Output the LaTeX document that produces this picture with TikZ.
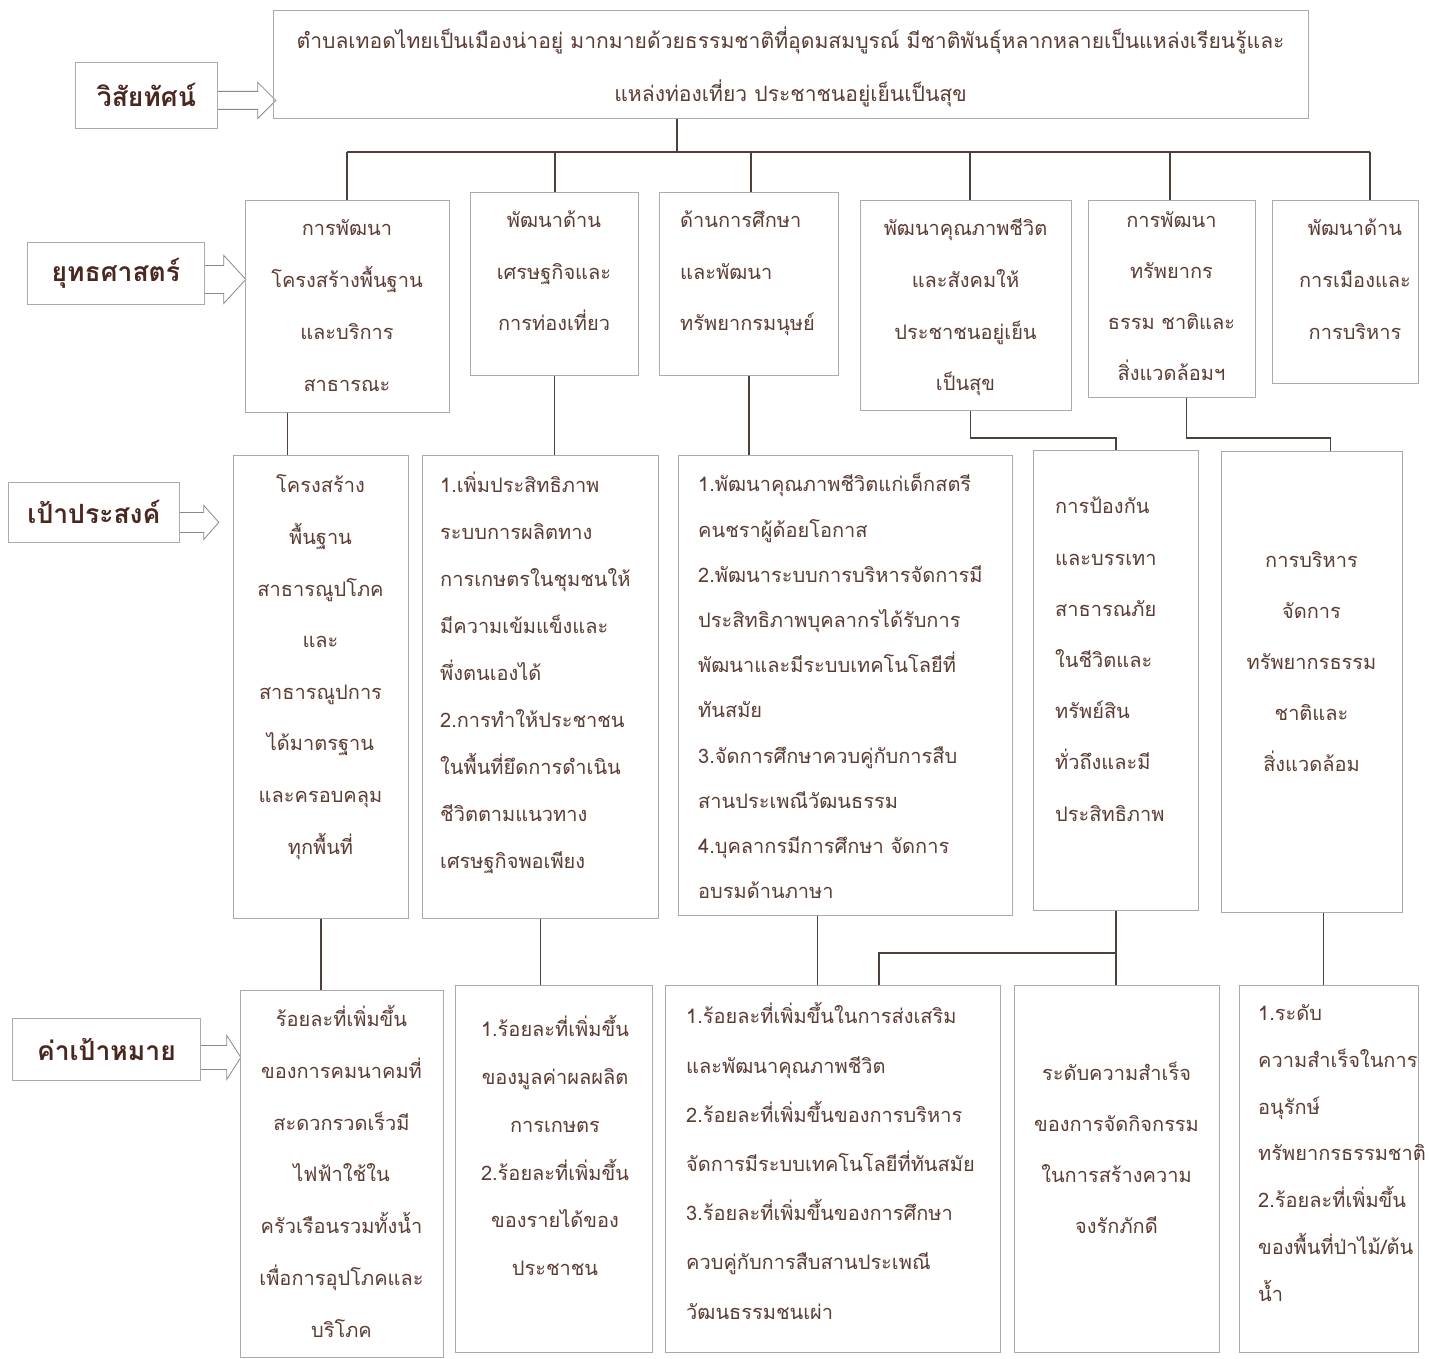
\documentclass[tikz,border=0pt]{standalone}
\usepackage{fontspec}
\newfontfamily\thai[Script=Thai]{Loma}
\definecolor{tc}{HTML}{5C3D33}
\definecolor{tcb}{HTML}{4A2820}
\definecolor{lc}{HTML}{4E403B}
\definecolor{bc}{HTML}{ABABAB}
\tikzset{
 box/.style={draw=bc, line width=0.8pt, inner sep=0pt, anchor=north west},
 lab/.style={box, text=tcb, font=\thai\bfseries\fontsize{26.5}{30}\selectfont},
 txt/.style={inner sep=0pt, text=tc},
 tsz/.style 2 args={font=\thai\fontsize{#1}{#2}\selectfont},
 tl/.style={txt, anchor=north west, align=left},
 tcn/.style={txt, anchor=north, align=center},
 conn/.style={draw=lc, line width=1.6pt},
 blk/.style={draw=bc!80!black, line width=0.8pt, line join=miter},
}
\newcommand\bx[5]{\node[box, minimum width={#4-#2}, minimum height={#5-#3}] (#1) at (#2,#3) {};}
\newcommand\lbx[6]{\node[lab, minimum width={#4-#2}, minimum height={#5-#3}] (#1) at (#2,#3) {#6};}
\newcommand\blkarrow[6]{\draw[blk] (#1.east) ++(0,{#2-#5}) -- ++(#3,0) -- ++(0,{#5-#6}) -- ++(#4,#6) -- ++(-#4,#6) -- ++(0,{#5-#6}) -- ++(-#3,0);}
\begin{document}
\begin{tikzpicture}[x=1pt,y=-1pt]
\useasboundingbox[fill=white] (0,0) rectangle (1429,1359);

% row labels
\lbx{l1}{75}{62}{217}{128}{วิสัยทัศน์}
\lbx{l2}{27}{242}{204}{304}{ยุทธศาสตร์}
\lbx{l3}{8}{482}{179}{542}{เป้าประสงค์}
\lbx{l4}{12}{1018}{200}{1080}{ค่าเป้าหมาย}
\blkarrow{l1}{5}{40}{18}{9}{18}
\blkarrow{l2}{6}{19}{22}{14}{24}
\blkarrow{l3}{10}{24}{15}{10}{17}
\blkarrow{l4}{8}{26}{14}{12}{22}

% vision
\bx{v}{273}{10}{1308}{118}
\node[tcn, tsz={21.1}{53}] (vt) at (790.5,11.5) {\strut ตำบลเทอดไทยเป็นเมืองน่าอยู่ มากมายด้วยธรรมชาติที่อุดมสมบูรณ์ มีชาติพันธุ์หลากหลายเป็นแหล่งเรียนรู้และ\\แหล่งท่องเที่ยว ประชาชนอยู่เย็นเป็นสุข};

% strategies
\bx{s1}{245}{200}{449}{412}
\bx{s2}{470}{192}{638}{375}
\bx{s3}{659}{192}{838}{375}
\bx{s4}{860}{200}{1071}{410}
\bx{s5}{1088}{200}{1255}{397}
\bx{s6}{1272}{200}{1418}{383}
\node[tcn, tsz={20}{52}] (s1t) at (347,199.2) {\strut การพัฒนา\\โครงสร้างพื้นฐาน\\และบริการ\\สาธารณะ};
\node[tcn, tsz={20}{51.5}] (s2t) at (554,191.5) {\strut พัฒนาด้าน\\เศรษฐกิจและ\\การท่องเที่ยว};
\node[tl, tsz={20}{51.5}] (s3t) at (680,191.5) {\strut ด้านการศึกษา\\และพัฒนา\\ทรัพยากรมนุษย์};
\node[tcn, tsz={20}{51.7}] (s4t) at (965.5,199.4) {\strut พัฒนาคุณภาพชีวิต\\และสังคมให้\\ประชาชนอยู่เย็น\\เป็นสุข};
\node[tcn, tsz={20}{51}] (s5t) at (1171.5,191.9) {\strut การพัฒนา\\ทรัพยากร\\ธรรม ชาติและ\\สิ่งแวดล้อมฯ};
\node[tcn, tsz={20}{52}] (s6t) at (1355,199.2) {\strut พัฒนาด้าน\\การเมืองและ\\การบริหาร};

% objectives
\bx{o1}{233}{455}{408}{918}
\bx{o2}{422}{455}{658}{918}
\bx{o3}{678}{455}{1012}{915}
\bx{o4}{1033}{450}{1198}{910}
\bx{o5}{1221}{451}{1402}{912}
\node[tcn, tsz={20}{51.6}] (o1t) at (320.5,456.5) {\strut โครงสร้าง\\พื้นฐาน\\สาธารณูปโภค\\และ\\สาธารณูปการ\\ได้มาตรฐาน\\และครอบคลุม\\ทุกพื้นที่};
\node[tl, tsz={20}{47}] (o2t) at (440,459.7) {\strut 1.เพิ่มประสิทธิภาพ\\ระบบการผลิตทาง\\การเกษตรในชุมชนให้\\มีความเข้มแข็งและ\\พึ่งตนเองได้\\2.การทำให้ประชาชน\\ในพื้นที่ยึดการดำเนิน\\ชีวิตตามแนวทาง\\เศรษฐกิจพอเพียง};
\node[tl, tsz={20}{45.2}] (o3t) at (698,460) {\strut 1.พัฒนาคุณภาพชีวิตแก่เด็กสตรี\\คนชราผู้ด้อยโอกาส\\2.พัฒนาระบบการบริหารจัดการมี\\ประสิทธิภาพบุคลากรได้รับการ\\พัฒนาและมีระบบเทคโนโลยีที่\\ทันสมัย\\3.จัดการศึกษาควบคู่กับการสืบ\\สานประเพณีวัฒนธรรม\\4.บุคลากรมีการศึกษา จัดการ\\อบรมด้านภาษา};
\node[tl, tsz={20}{51.2}] (o4t) at (1055,477.8) {\strut การป้องกัน\\และบรรเทา\\สาธารณภัย\\ในชีวิตและ\\ทรัพย์สิน\\ทั่วถึงและมี\\ประสิทธิภาพ};
\node[tcn, tsz={20}{51}] (o5t) at (1311.5,531.9) {\strut การบริหาร\\จัดการ\\ทรัพยากรธรรม\\ชาติและ\\สิ่งแวดล้อม};

% targets
\bx{t1}{240}{990}{443}{1357}
\bx{t2}{455}{985}{652}{1352}
\bx{t3}{665}{985}{1000}{1352}
\bx{t4}{1014}{985}{1219}{1352}
\bx{t5}{1239}{985}{1418}{1352}
\node[tcn, tsz={20}{51.7}] (t1t) at (341.5,990.4) {\strut ร้อยละที่เพิ่มขึ้น\\ของการคมนาคมที่\\สะดวกรวดเร็วมี\\ไฟฟ้าใช้ใน\\ครัวเรือนรวมทั้งน้ำ\\เพื่อการอุปโภคและ\\บริโภค};
\node[tcn, tsz={20}{47.8}] (t2t) at (555,1003.1) {\strut 1.ร้อยละที่เพิ่มขึ้น\\ของมูลค่าผลผลิต\\การเกษตร\\2.ร้อยละที่เพิ่มขึ้น\\ของรายได้ของ\\ประชาชน};
\node[tl, tsz={20}{49.2}] (t3t) at (686,989.2) {\strut 1.ร้อยละที่เพิ่มขึ้นในการส่งเสริม\\และพัฒนาคุณภาพชีวิต\\2.ร้อยละที่เพิ่มขึ้นของการบริหาร\\จัดการมีระบบเทคโนโลยีที่ทันสมัย\\3.ร้อยละที่เพิ่มขึ้นของการศึกษา\\ควบคู่กับการสืบสานประเพณี\\วัฒนธรรมชนเผ่า};
\node[tcn, tsz={20}{51}] (t4t) at (1116.5,1044.9) {\strut ระดับความสำเร็จ\\ของการจัดกิจกรรม\\ในการสร้างความ\\จงรักภักดี};
\node[tl, tsz={20}{46.7}] (t5t) at (1258,987.9) {\strut 1.ระดับ\\ความสำเร็จในการ\\อนุรักษ์\\ทรัพยากรธรรมชาติ\\2.ร้อยละที่เพิ่มขึ้น\\ของพื้นที่ป่าไม้/ต้น\\น้ำ};

% connectors: vision -> strategies
\coordinate (b0) at (677,152);
\coordinate (b1) at (347,152);
\coordinate (b2) at (555,152);
\coordinate (b3) at (751,152);
\coordinate (b4) at (970,152);
\coordinate (b5) at (1170,152);
\coordinate (b6) at (1370,152);
\draw[conn] (v.south -| b0) -- (b0);
\draw[conn] (b1) -- (b6);
\foreach \i in {1,...,6} {\draw[conn] (b\i) -- (b\i |- s\i.north);}

% strategies -> objectives
\coordinate (p1) at ([xshift=-60pt]s1.south);
\draw[conn] (p1) -- (p1 |- o1.north);
\draw[conn] (s2.south) -- (s2.south |- o2.north);
\draw[conn] (s3.south) -- (s3.south |- o3.north);
\coordinate (p4) at ([xshift=4.5pt]s4.south);
\draw[conn] (p4) -- ++(0,27) -| (o4.north);
\coordinate (p5) at ([xshift=14.5pt]s5.south);
\coordinate (q5) at ([xshift=18.5pt]o5.north);
\draw[conn] (p5) -- ++(0,40) -| (q5);

% objectives -> targets
\draw[conn] (o1.south) -- (o1.south |- t1.north);
\draw[conn] (o2.south) -- (o2.south |- t2.north);
\coordinate (p7) at ([xshift=-28pt]o3.south);
\draw[conn] (p7) -- (p7 |- t3.north);
\draw[conn] (o4.south) -- (o4.south |- t4.north);
\coordinate (q8) at ([xshift=46pt]t3.north);
\draw[conn] (o4.south) ++(0,42) -| (q8);
\coordinate (p9) at ([xshift=11.5pt]o5.south);
\draw[conn] (p9) -- (p9 |- t5.north);
\end{tikzpicture}
\end{document}
